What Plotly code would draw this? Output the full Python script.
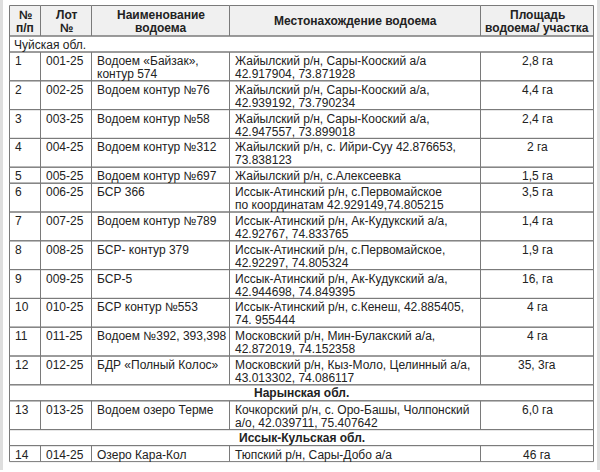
import plotly.graph_objects as go

# ---------------- data ----------------
headers = ["№\nп/п", "Лот\n№", "Наименование\nводоема", "Местонахождение водоема", "Площадь\nводоема/ участка"]

nums = ["1", "2", "3", "4", "5", "6", "7", "8", "9", "10", "11", "12", "13", "14"]
lots = ["001-25", "002-25", "003-25", "004-25", "005-25", "006-25", "007-25",
        "008-25", "009-25", "010-25", "011-25", "012-25", "013-25", "014-25"]
names = ["Водоем «Байзак»,\nконтур 574", "Водоем контур №76", "Водоем контур №58",
         "Водоем контур №312", "Водоем контур №697", "БСР 366", "Водоем контур №789",
         "БСР- контур 379", "БСР-5", "БСР контур №553", "Водоем №392, 393,398",
         "БДР «Полный Колос»", "Водоем озеро Терме", "Озеро Кара-Кол"]
locations = [
    "Жайылский р/н, Сары-Кооский а/а\n42.917904, 73.871928",
    "Жайылский р/н, Сары-Кооский а/а,\n42.939192, 73.790234",
    "Жайылский р/н, Сары-Кооский а/а,\n42.947557, 73.899018",
    "Жайылский р/н, с. Ийри-Суу 42.876653,\n73.838123",
    "Жайылский р/н, с.Алексеевка",
    "Иссык-Атинский р/н, с.Первомайское\nпо координатам 42.929149,74.805215",
    "Иссык-Атинский р/н, Ак-Кудукский а/а,\n42.92767, 74.833765",
    "Иссык-Атинский р/н, с.Первомайское,\n42.92297, 74.805324",
    "Иссык-Атинский р/н, Ак-Кудукский а/а,\n42.944698, 74.849395",
    "Иссык-Атинский р/н, с.Кенеш, 42.885405,\n74. 955444",
    "Московский р/н, Мин-Булакский а/а,\n42.872019, 74.152358",
    "Московский р/н, Кыз-Моло, Целинный а/а,\n43.013302, 74.086117",
    "Кочкорский р/н, с. Оро-Башы, Чолпонский\nа/о, 42.039711, 75.407642",
    "Тюпский р/н, Сары-Добо а/а",
]
areas = ["2,8 га", "4,4 га", "2,4 га", "2 га", "1,5 га", "3,5 га", "1,4 га",
         "1,9 га", "16, га", "4 га", "4 га", "35, 3га", "6,0 га", "46 га"]

# section headings: (inserted before data row index, text, centered/bold)
sections = [(0, "Чуйская обл.", False), (12, "Нарынская обл.", True), (13, "Иссык-Кульская обл.", True)]

# ---------------- layout constants ----------------
W, H = 600, 472
col_x = [9.5, 40.5, 91.5, 229.5, 480.5, 593.5]
top = 5.5
header_h = 30.5
single_h = 16
double_h = 28.8
line_gap = 13
FONT = "Liberation Sans, Arial, sans-serif"
TXT = "#222222"
LINE = "#7a7a7a"

shapes = []
annotations = []

def rect(x0, y0, x1, y1, fill=None):
    shapes.append(dict(type="rect", xref="x", yref="y", x0=x0, x1=x1, y0=y0, y1=y1,
                       line=dict(color=LINE, width=1),
                       fillcolor=fill if fill else "rgba(0,0,0,0)", layer="below"))

def text(x, y, s, anchor="left", bold=False, size=12):
    annotations.append(dict(xref="x", yref="y", x=x, y=y, text=("<b>%s</b>" % s) if bold else s,
                            showarrow=False, xanchor=anchor, yanchor="middle",
                            font=dict(family=FONT, size=size, color=TXT)))

# outer page strips
shapes.append(dict(type="rect", xref="x", yref="y", x0=0, x1=3, y0=0, y1=470,
                   line=dict(width=0), fillcolor="#dedede", layer="below"))
shapes.append(dict(type="rect", xref="x", yref="y", x0=597, x1=600, y0=0, y1=470,
                   line=dict(width=0), fillcolor="#dedede", layer="below"))

# header
y = top
for i, h in enumerate(headers):
    rect(col_x[i], y, col_x[i + 1], y + header_h, fill="#f0f0f0")
    lines = h.split("\n")
    cx = (col_x[i] + col_x[i + 1]) / 2
    if len(lines) == 1:
        text(cx, y + header_h / 2, lines[0], anchor="center", bold=True)
    else:
        for k, ln in enumerate(lines):
            text(cx, y + 9.5 + line_gap * k, ln, anchor="center", bold=True)
y += header_h

sec_map = {s[0]: s for s in sections}
for r in range(len(nums)):
    if r in sec_map:
        _, stxt, centered = sec_map[r]
        rect(col_x[0], y, col_x[-1], y + single_h)
        if centered:
            text((col_x[0] + col_x[-1]) / 2, y + single_h / 2 + 0.5, stxt, anchor="center", bold=True)
        else:
            text(col_x[0] + 2.5, y + single_h / 2 + 0.5, stxt)
        y += single_h
    cells = [nums[r], lots[r], names[r], locations[r], areas[r]]
    nl = max(len(c.split("\n")) for c in cells)
    h = single_h if nl == 1 else double_h
    for i, c in enumerate(cells):
        rect(col_x[i], y, col_x[i + 1], y + h)
        for k, ln in enumerate(c.split("\n")):
            yy = y + 9 + line_gap * k
            if i == 4:
                text((col_x[i] + col_x[i + 1]) / 2, yy, ln, anchor="center")
            else:
                text(col_x[i] + 3, yy, ln)
    y += h

fig = go.Figure()
fig.add_trace(go.Scatter(x=[0, W], y=[0, H], mode="markers", marker=dict(opacity=0),
                         hoverinfo="skip", showlegend=False))
fig.update_layout(
    width=W, height=H, margin=dict(l=0, r=0, t=0, b=0),
    paper_bgcolor="white", plot_bgcolor="white",
    xaxis=dict(range=[0, W], visible=False, fixedrange=True),
    yaxis=dict(range=[H, 0], visible=False, fixedrange=True),
    shapes=shapes, annotations=annotations, showlegend=False,
)
fig.write_html("out.html", config={"displayModeBar": False},
               post_script="document.body.style.margin='0';document.body.style.overflow='hidden';")
